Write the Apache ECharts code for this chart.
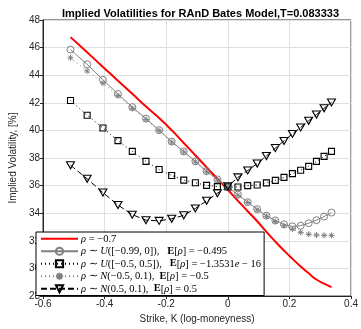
<!DOCTYPE html>
<html>
<head>
<meta charset="utf-8">
<script src="https://cdn.jsdelivr.net/npm/echarts@6/dist/echarts.min.js"></script>
<style>
  html, body { margin: 0; padding: 0; background: #fff; }
  #ivChart { width: 361px; height: 329px; }
</style>
</head>
<body>
<div id="ivChart"></div>
<script>
// log-moneyness of the strikes
const strikes = [-0.5108, -0.4568, -0.4055, -0.3567, -0.3102, -0.2657, -0.2231, -0.1823, -0.1431, -0.1054,
  -0.0690, -0.0339, 0, 0.0328, 0.0645, 0.0953, 0.1252, 0.1542, 0.1823, 0.2097, 0.2364, 0.2624, 0.2877, 0.3124, 0.3365];

const ivConst = [46.76, 45.66, 44.6, 43.6, 42.65, 41.73, 40.9, 40.02, 39.09, 38.2, 37.33, 36.5, 35.7,
  34.9, 34.15, 33.42, 32.65, 31.95, 31.3, 30.7, 30.15, 29.65, 29.2, 28.9, 28.65];
const ivUniNeg = [45.86, 44.79, 43.67, 42.64, 41.69, 40.86, 40.02, 39.19, 38.48, 37.76, 37.05, 36.45, 35.92,
  35.35, 34.8, 34.3, 33.83, 33.48, 33.2, 33.05, 33.1, 33.28, 33.5, 33.76, 34.05];
const ivUniSym = [42.17, 41.1, 40.18, 39.26, 38.48, 37.76, 37.17, 36.74, 36.4, 36.21, 36.02, 35.93, 35.9,
  35.9, 36.0, 36.05, 36.2, 36.38, 36.6, 36.87, 37.12, 37.4, 37.76, 38.12, 38.48];
const ivNormNeg = [45.26, 44.31, 43.43, 42.52, 41.6, 40.8, 39.98, 39.15, 38.44, 37.72, 37.0, 36.4, 35.88,
  35.3, 34.78, 34.25, 33.78, 33.4, 33.1, 32.85, 32.62, 32.48, 32.42, 32.4, 32.4];
const ivNormPos = [37.48, 36.5, 35.5, 34.6, 33.9, 33.5, 33.45, 33.6, 33.85, 34.35, 34.9, 35.45, 35.95,
  36.6, 37.1, 37.6, 38.15, 38.72, 39.24, 39.75, 40.22, 40.7, 41.15, 41.6, 42.03];

const legendLabels = {
  const: '{i|ρ} = −0.7',
  uniNeg: '{i|ρ} ∼ {i|U}([−0.99, 0]),   {b|E}[{i|ρ}] = −0.495',
  uniSym: '{i|ρ} ∼ {i|U}([−0.5, 0.5]),   {b|E}[{i|ρ}] = −1.3531{i|e} − 16',
  normNeg: '{i|ρ} ∼ {i|N}(−0.5, 0.1),  {b|E}[{i|ρ}] = −0.5',
  normPos: '{i|ρ} ∼ {i|N}(0.5, 0.1),  {b|E}[{i|ρ}] = 0.5'
};

const yTicks = { min: 28, max: 48, step: 2 };
const xTicks = { min: -0.6, max: 0.4, step: 0.2 };

function pairs(ys) {
  return strikes.map((x, i) => [x, ys[i]]);
}

const axisColor = '#262626';
const gray = '#808080';
const starPath = 'path://M0,-10L0,10M-10,0L10,0M-7,-7L7,7M-7,7L7,-7';

const myChart = echarts.init(document.getElementById('ivChart'));
myChart.setOption({
  animation: false,
  textStyle: { fontFamily: 'Liberation Sans' },
  title: {
    text: 'Implied Volatilities for RAnD Bates Model,T=0.083333',
    left: 57,
    top: 3,
    textStyle: { fontSize: 11, fontWeight: 'bold', color: '#000' }
  },
  grid: {
    left: 34,
    right: 8,
    top: 20,
    bottom: 29,
    show: true,
    borderColor: axisColor,
    borderWidth: 1
  },
  xAxis: {
    type: 'value',
    min: xTicks.min,
    max: xTicks.max,
    interval: xTicks.step,
    name: 'Strike, K (log-moneyness)',
    nameLocation: 'middle',
    nameGap: 17,
    nameTextStyle: { fontSize: 10, color: axisColor },
    axisLine: { onZero: false, lineStyle: { color: axisColor } },
    axisTick: { inside: false, length: 3, lineStyle: { color: axisColor } },
    axisLabel: { fontSize: 10, color: axisColor, margin: 3 },
    splitLine: { show: true, lineStyle: { color: '#dfdfdf' } }
  },
  yAxis: {
    type: 'value',
    min: yTicks.min,
    max: yTicks.max,
    interval: yTicks.step,
    name: 'Implied Volatility, [%]',
    nameLocation: 'middle',
    nameGap: 18,
    nameTextStyle: { fontSize: 10, color: axisColor },
    axisLine: { show: true, onZero: false, lineStyle: { color: axisColor } },
    axisTick: { show: true, inside: false, length: 3, lineStyle: { color: axisColor } },
    axisLabel: { fontSize: 10, color: axisColor, margin: 3 },
    splitLine: { show: true, lineStyle: { color: '#dfdfdf' } }
  },
  legend: {
    orient: 'vertical',
    left: 36,
    top: 232,
    padding: [1, 3, 1, 4],
    itemGap: 1,
    itemWidth: 37,
    itemHeight: 9,
    backgroundColor: '#fff',
    borderColor: '#000',
    borderWidth: 1,
    borderRadius: 0,
    data: [
      { name: 'const', itemStyle: { color: 'rgba(0,0,0,0)', borderColor: 'rgba(0,0,0,0)', borderWidth: 0 } },
      'uniNeg', 'uniSym', 'normNeg', 'normPos'
    ],
    formatter: (name) => legendLabels[name],
    textStyle: {
      fontFamily: 'Liberation Serif',
      fontSize: 10.5,
      color: '#000',
      lineHeight: 11.5,
      padding: [0, 0, 0, -2],
      rich: {
        i: { fontFamily: 'Liberation Serif', fontStyle: 'italic', fontSize: 10.5, color: '#000' },
        b: { fontFamily: 'Liberation Serif', fontWeight: 'bold', fontSize: 10.5, color: '#000' }
      }
    }
  },
  series: [
    {
      name: 'const',
      type: 'line',
      data: pairs(ivConst),
      smooth: true,
      showSymbol: false,
      symbol: 'none',
      lineStyle: { color: '#ff0000', width: 2 },
      itemStyle: { color: '#ff0000' }
    },
    {
      name: 'uniNeg',
      type: 'line',
      data: pairs(ivUniNeg),
      symbol: 'circle',
      symbolSize: 7,
      showAllSymbol: true,
      lineStyle: { color: gray, width: 1 },
      itemStyle: { color: 'rgba(255,255,255,0)', borderColor: gray, borderWidth: 1 }
    },
    {
      name: 'uniSym',
      type: 'line',
      data: pairs(ivUniSym),
      symbol: 'rect',
      symbolSize: 6,
      showAllSymbol: true,
      lineStyle: { color: '#000', width: 1, type: [1, 3] },
      itemStyle: { color: 'rgba(255,255,255,0)', borderColor: '#000', borderWidth: 1.1 }
    },
    {
      name: 'normNeg',
      type: 'line',
      data: pairs(ivNormNeg),
      symbol: starPath,
      symbolSize: 6,
      showAllSymbol: true,
      lineStyle: { color: gray, width: 1, type: [1, 3] },
      itemStyle: { color: gray, borderColor: gray, borderWidth: 1 }
    },
    {
      name: 'normPos',
      type: 'line',
      data: pairs(ivNormPos),
      symbol: 'triangle',
      symbolRotate: 180,
      symbolSize: [8, 7],
      showAllSymbol: true,
      lineStyle: { color: '#000', width: 1, type: [6, 3] },
      itemStyle: { color: 'rgba(255,255,255,0)', borderColor: '#000', borderWidth: 1.1 }
    }
  ]
});
</script>
</body>
</html>
